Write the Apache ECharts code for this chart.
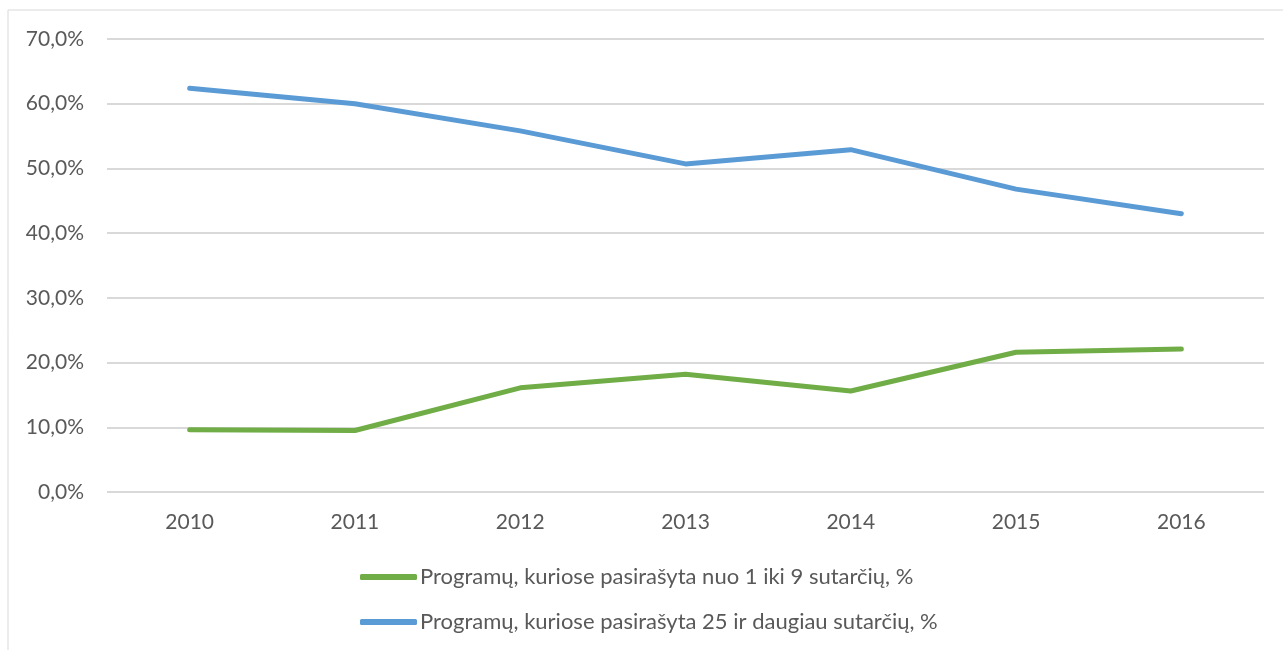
<!DOCTYPE html>
<html>
<head>
<meta charset="utf-8">
<script src="https://cdn.jsdelivr.net/npm/echarts@6/dist/echarts.min.js"></script>
<style>
  html, body { margin: 0; padding: 0; background: #fff; }
  #chart { width: 1283px; height: 650px; }
</style>
</head>
<body>
<div id="chart"></div>
<script>
const years = ['2010', '2011', '2012', '2013', '2014', '2015', '2016']
const smallShare = [9.6, 9.5, 16.1, 18.2, 15.6, 21.6, 22.1]
const largeShare = [62.4, 60.0, 55.8, 50.7, 52.9, 46.8, 43.0]
const smallName = 'Programų, kuriose pasirašyta nuo 1 iki 9 sutarčių, %'
const largeName = 'Programų, kuriose pasirašyta 25 ir daugiau sutarčių, %'

const fontFamily = 'Lato, "Open Sans", sans-serif'
const labelColor = '#595959'

var myChart = echarts.init(document.getElementById('chart'))

const option = {
  animation: false,
  textStyle: { fontFamily: fontFamily },
  graphic: [{
    type: 'rect',
    shape: { x: 8, y: 10, width: 1290, height: 660 },
    style: { fill: 'none', stroke: '#d9d9d9', lineWidth: 1 },
    silent: true
  }],
  grid: { left: 107, right: 19, top: 39, bottom: 158 },
  legend: {
    orient: 'vertical',
    left: 360,
    top: 566,
    padding: 0,
    itemWidth: 57,
    itemHeight: 6,
    itemGap: 23,
    icon: 'roundRect',
    textStyle: {
      fontSize: 22,
      lineHeight: 22,
      color: labelColor,
      fontFamily: fontFamily,
      padding: [0, 0, 0, -2]
    },
    data: [smallName, largeName]
  },
  xAxis: {
    type: 'category',
    data: years,
    boundaryGap: true,
    axisLine: { show: false },
    axisTick: { show: false },
    axisLabel: { color: labelColor, fontSize: 21, margin: 20 }
  },
  yAxis: {
    type: 'value',
    min: 0,
    max: 70,
    interval: 10,
    axisLine: { show: false },
    axisTick: { show: false },
    axisLabel: {
      color: labelColor,
      fontSize: 21,
      margin: 23,
      formatter: (v) => v.toFixed(1).replace('.', ',') + '%'
    },
    splitLine: { lineStyle: { color: '#d9d9d9', width: 2 } }
  },
  series: [
    {
      name: smallName,
      type: 'line',
      data: smallShare,
      symbol: 'none',
      lineStyle: { color: '#70ad47', width: 5, cap: 'round', join: 'round' },
      itemStyle: { color: '#70ad47' }
    },
    {
      name: largeName,
      type: 'line',
      data: largeShare,
      symbol: 'none',
      lineStyle: { color: '#5b9bd5', width: 5, cap: 'round', join: 'round' },
      itemStyle: { color: '#5b9bd5' }
    }
  ]
}

myChart.setOption(option)
</script>
</body>
</html>
